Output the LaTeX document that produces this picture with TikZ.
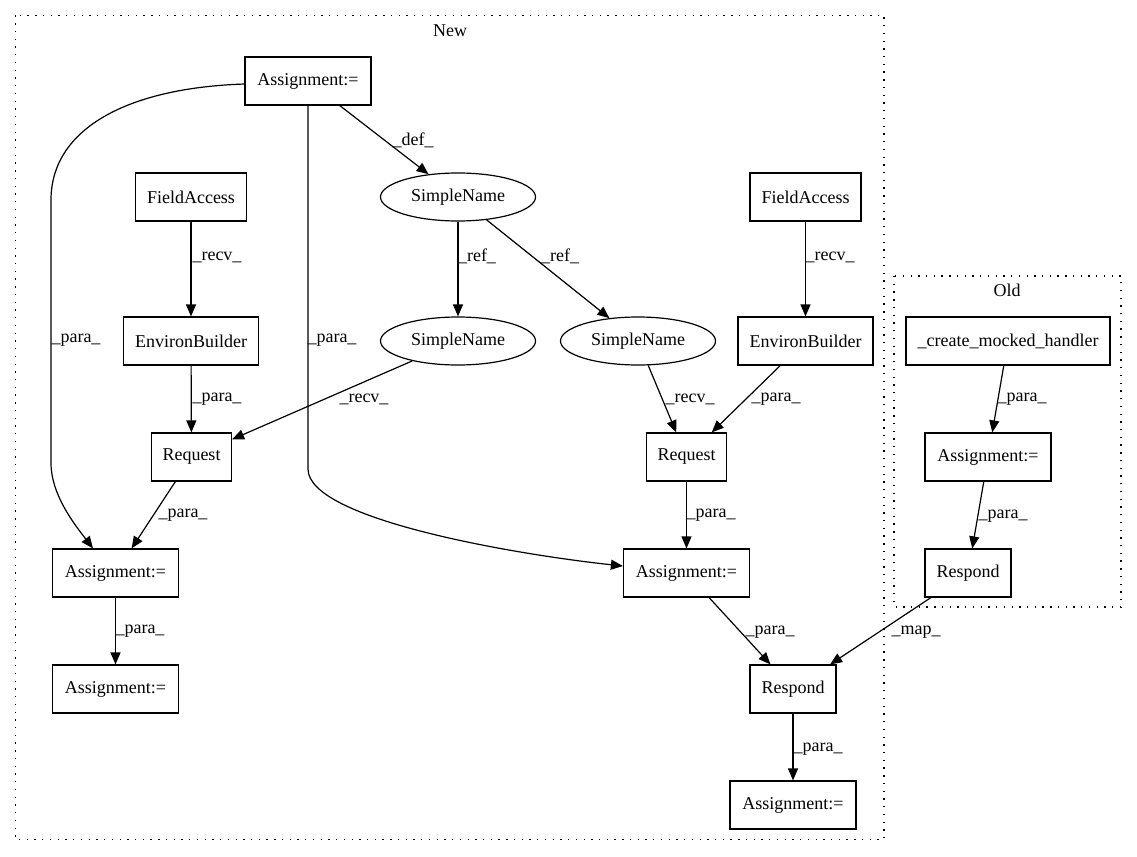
\documentclass[tikz,border=0pt]{standalone}
\usepackage{fontspec}
\setmainfont{Liberation Serif}
\usetikzlibrary{shapes.geometric,arrows.meta,calc}
\begin{document}
\begin{tikzpicture}[x=0.75pt,y=-0.75pt,
  every node/.style={font=\fontsize{13.5pt}{16pt}\selectfont},
  box/.style={draw, line width=0.9pt, rectangle, minimum height=36pt, inner sep=0pt},
  oval/.style={draw, line width=0.9pt, ellipse, minimum height=36pt, minimum width=116.25pt, inner sep=0pt},
  edge/.style={draw, line width=0.9pt, -{Triangle[length=9pt,width=7.5pt]}},
  lbl/.style={inner sep=0pt},
  cluster/.style={draw, line width=1pt, dash pattern=on 1pt off 4.8pt}]
\useasboundingbox (0,0) rectangle (1137,856);

% clusters
\draw[cluster] (15.5,15.5) rectangle (884,839.5);
\draw[cluster] (894,276) rectangle (1121,607);
\node (tNew) at (450,31) {New};
\node (tOld) at (1007,290) {Old};

% nodes
\node[box, minimum width=94.5pt] (a0) at (308,81) {Assignment:=};
\node[box, minimum width=83.25pt] (fa1) at (191,197) {FieldAccess};
\node[oval] (sn0) at (458,197) {SimpleName};
\node[box, minimum width=83.25pt] (fa2) at (805.5,197) {FieldAccess};
\node[box, minimum width=101.25pt] (eb1) at (191,341) {EnvironBuilder};
\node[oval] (sn1) at (458,341) {SimpleName};
\node[oval] (sn2) at (638,341) {SimpleName};
\node[box, minimum width=101.25pt] (eb2) at (805.5,341) {EnvironBuilder};
\node[box, minimum width=153pt] (ch) at (1008,341) {\_create\_mocked\_handler};
\node[box, minimum width=60pt] (rq1) at (191.5,457) {Request};
\node[box, minimum width=60pt] (rq2) at (686.5,457) {Request};
\node[box, minimum width=94.5pt] (aO) at (988,457) {Assignment:=};
\node[box, minimum width=94.5pt] (aL) at (115.5,573) {Assignment:=};
\node[box, minimum width=94.5pt] (aR) at (686.5,573) {Assignment:=};
\node[box, minimum width=64.5pt] (rsO) at (968,573) {Respond};
\node[box, minimum width=94.5pt] (aBL) at (115.5,689) {Assignment:=};
\node[box, minimum width=64.5pt] (rsN) at (793,689) {Respond};
\node[box, minimum width=94.5pt] (aBR) at (793,805) {Assignment:=};

% edges
\draw[edge] (a0) -- (sn0);
\draw[edge] ($(a0.west)+(0,3)$) .. controls (125,88) and (51,130) .. (51,200) -- (51,463) .. controls (51,495) and (75,525) .. ($(aL.north)+(-22.5,0)$);
\draw[edge] (a0.south) -- (308,469) .. controls (308,520) and (520,555) .. ($(aR.west)+(0,-7)$);
\draw[edge] (fa1) -- (eb1);
\draw[edge] (sn0) -- (sn1);
\draw[edge] (sn0) -- (sn2);
\draw[edge] (fa2) -- (eb2);
\draw[edge] (eb1) -- (rq1);
\draw[edge] (sn1) -- (rq1);
\draw[edge] (sn2) -- (rq2);
\draw[edge] (eb2) -- (rq2);
\draw[edge] (ch) -- (aO);
\draw[edge] (rq1) -- (aL);
\draw[edge] (rq2) -- (aR);
\draw[edge] (aO) -- (rsO);
\draw[edge] (aL) -- (aBL);
\draw[edge] (aR) -- (rsN);
\draw[edge] (rsO) -- (rsN);
\draw[edge] (rsN) -- (aBR);

% edge labels
\node[lbl] (l1) at (413,140) {\_def\_};
\node[lbl] (l2) at (76,340) {\_para\_};
\node[lbl] (l3) at (332,340) {\_para\_};
\node[lbl] (l4) at (217,257) {\_recv\_};
\node[lbl] (l5) at (477,256) {\_ref\_};
\node[lbl] (l6) at (560,256) {\_ref\_};
\node[lbl] (l7) at (830,257) {\_recv\_};
\node[lbl] (l8) at (217,399) {\_para\_};
\node[lbl] (l9) at (364,399) {\_recv\_};
\node[lbl] (l10) at (690,399) {\_recv\_};
\node[lbl] (l11) at (776,399) {\_para\_};
\node[lbl] (l12) at (1022,399) {\_para\_};
\node[lbl] (l13) at (183,515) {\_para\_};
\node[lbl] (l14) at (711,515) {\_para\_};
\node[lbl] (l15) at (1003,516) {\_para\_};
\node[lbl] (l16) at (140,631) {\_para\_};
\node[lbl] (l17) at (770,632) {\_para\_};
\node[lbl] (l18) at (916,632) {\_map\_};
\node[lbl] (l19) at (818,749) {\_para\_};
\end{tikzpicture}
\end{document}
